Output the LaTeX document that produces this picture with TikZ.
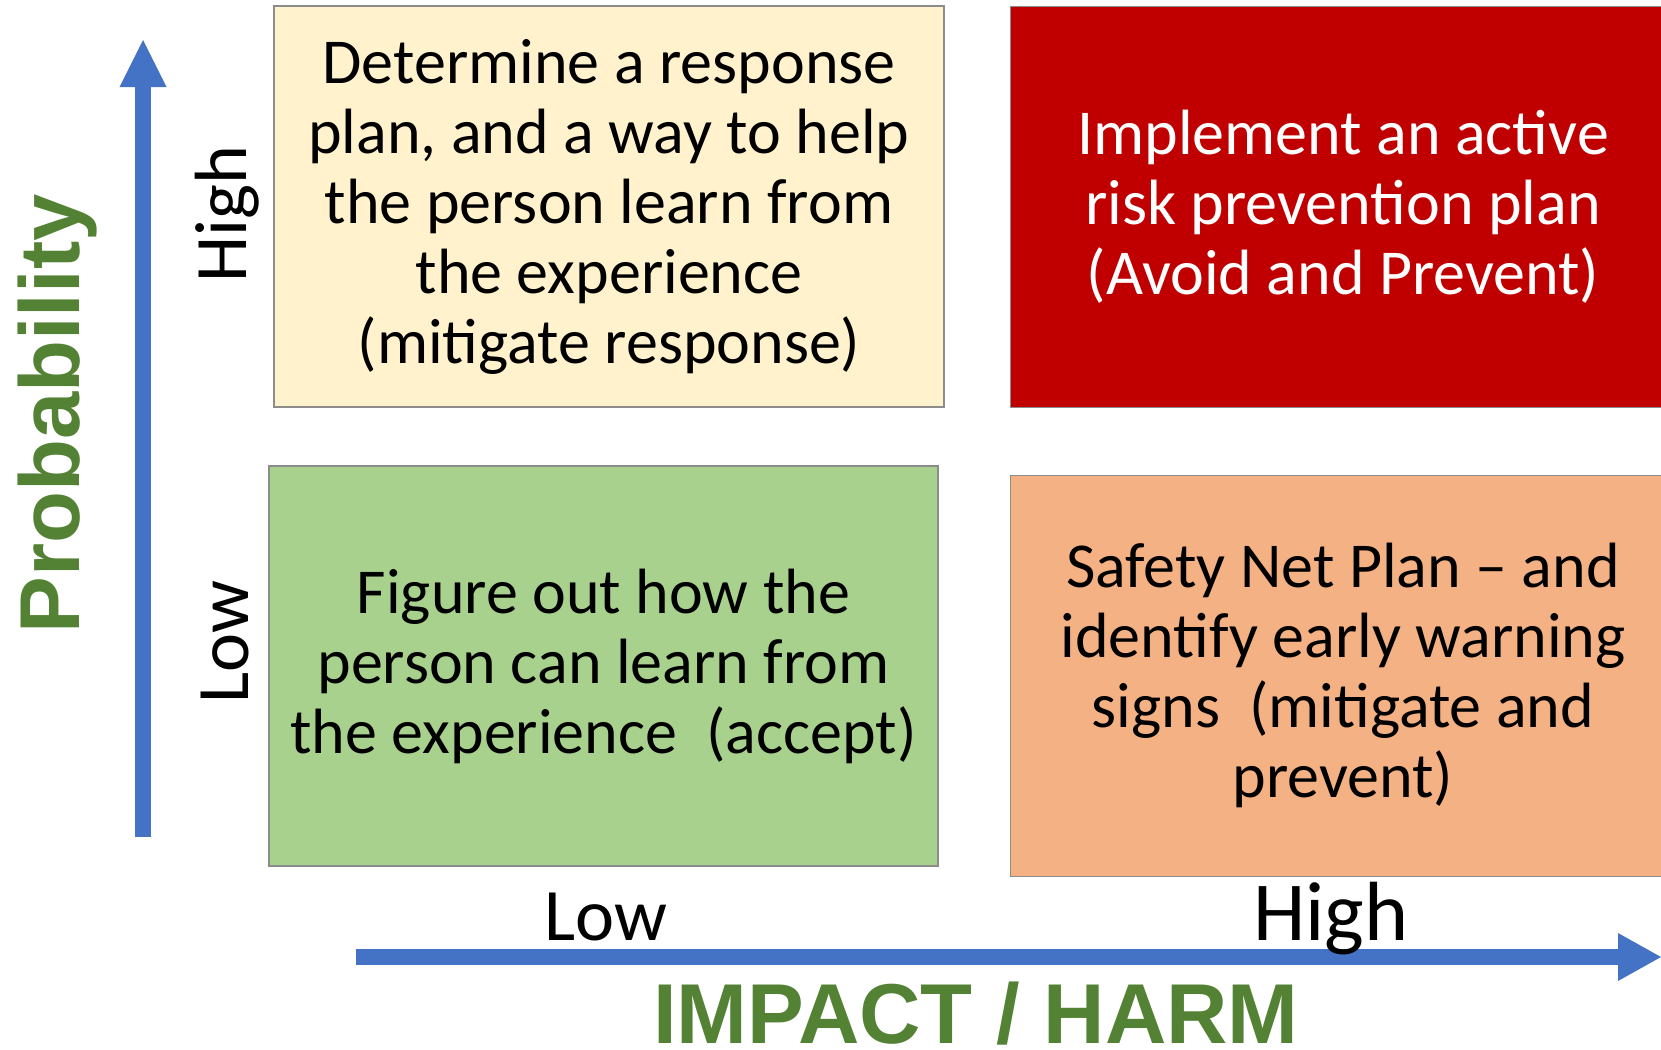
\documentclass[tikz,border=0pt]{standalone}
\usepackage{fontspec}
\setmainfont{Carlito}
\newfontfamily\arialfont{Liberation Sans}
\usetikzlibrary{arrows.meta}
\definecolor{axisblue}{HTML}{4472C4}
\definecolor{titlegreen}{HTML}{548235}
\definecolor{qyellow}{HTML}{FFF2CC}
\definecolor{qgreen}{HTML}{A9D18E}
\definecolor{qred}{HTML}{C00000}
\definecolor{qorange}{HTML}{F4B183}
\definecolor{qborder}{HTML}{8C8C8C}
\tikzset{
  quadfont/.style={font=\fontsize{64}{70}\selectfont},
  quad/.style={draw=qborder, line width=1.2pt, align=center, inner sep=0pt, quadfont},
  axislabel/.style={font=\fontsize{74}{80}\selectfont, inner sep=0pt, anchor=base},
  title/.style={font=\arialfont\bfseries\fontsize{85}{90}\selectfont, text=titlegreen, inner sep=0pt, anchor=base},
  axisarrow/.style={draw=axisblue, line width=16pt}
}
\begin{document}
\begin{tikzpicture}[x=1pt,y=-1pt]
\useasboundingbox (0,0) rectangle (1661,1049);
\clip (0,0) rectangle (1661,1049);
% quadrants
\node[quad, fill=qyellow, minimum width=670pt, minimum height=401pt] (yel) at (609,206.5)
  {Determine a response\\plan, and a way to help\\the person learn from\\the experience\\(mitigate response)};
\node[quad, fill=qred, minimum width=660pt, minimum height=401pt, anchor=north west] (red) at (1010,6) {};
\node[text=white, align=center, inner sep=0pt, quadfont] (redtext) at (1343,206.5)
  {Implement an active\\risk prevention plan\\(Avoid and Prevent)};
\node[quad, fill=qgreen, minimum width=669pt, minimum height=400pt] (grn) at (603.5,666)
  {Figure out how the\\person can learn from\\the experience\ \ (accept)};
\node[quad, fill=qorange, minimum width=660pt, minimum height=401pt, anchor=north west] (org) at (1010,474.5) {};
\node[align=center, inner sep=0pt, quadfont] (orgtext) at (1343,675)
  {Safety Net Plan -- and\\identify early warning\\signs\ \ (mitigate and\\prevent)};
% axes
\coordinate (vstart) at (143,837);
\coordinate (vend) at (143,40);
\coordinate (hstart) at (356,957);
\coordinate (hend) at (1661,957);
\draw[axisarrow, -{Triangle[length=47pt,width=47pt,line width=0pt]}] (vstart) -- (vend);
\draw[axisarrow, -{Triangle[length=43pt,width=48pt,line width=0pt]}] (hstart) -- (hend);
% axis labels
\node[axislabel, rotate=90] (phigh) at (246,214) {High};
\node[axislabel, rotate=90] (plow) at (248,642) {Low};
\node[axislabel] (ilow) at (606,940) {Low};
\node[axislabel, font=\fontsize{84}{90}\selectfont] (ihigh) at (1331,940) {High};
\node[title, rotate=90] (prob) at (79,414) {Probability};
\node[title] (impact) at (976,1043) {IMPACT / HARM};
\end{tikzpicture}
\end{document}
